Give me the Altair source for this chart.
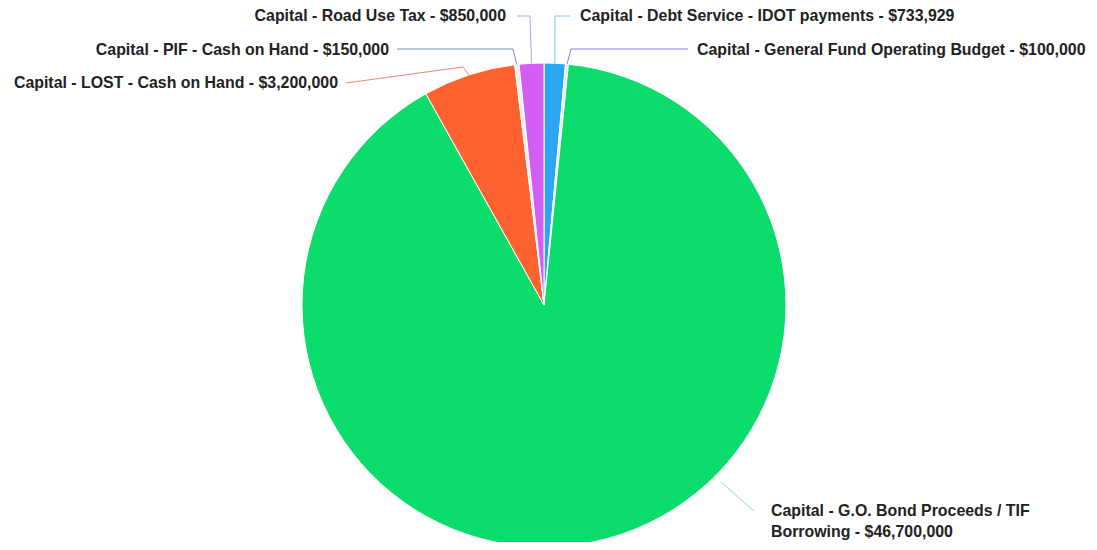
import math
import altair as alt
import pandas as pd

# ---------------- data ----------------
categories = [
    "Capital - Debt Service - IDOT payments",
    "Capital - General Fund Operating Budget",
    "Capital - G.O. Bond Proceeds / TIF Borrowing",
    "Capital - LOST - Cash on Hand",
    "Capital - PIF - Cash on Hand",
    "Capital - Road Use Tax",
]
values = [733929, 100000, 46700000, 3200000, 150000, 850000]
value_text = ["$733,929", "$100,000", "$46,700,000", "$3,200,000", "$150,000", "$850,000"]

# ---------------- styles ----------------
slice_colors = ["#2AA6F5", "#ECE8FB", "#0BDC6B", "#FF6231", "#ECF0F5", "#D35EF6"]
line_colors = ["#7DC6F2", "#8C7CF2", "#9FD8BD", "#E98B76", "#7890AB", "#C39BDF"]

# ---------------- layout (page pixel coordinates) ----------------
W, H = 1081, 534
OX, OY = 8, 8
CX, CY, R = 544, 305, 242
FONT_SIZE = 15.9
label_anchor = [(580, 16), (697, 50), (771, 510.5), (338, 83), (389, 50), (506, 16)]
label_align = ["left", "left", "left", "right", "right", "right"]
leader_override = [None, None, (135, 250), None, None, None]  # (angle deg, radius)
leader_rest = [
    [(555, 16), (570, 16)],
    [(571, 49), (688, 49)],
    [(754, 511)],
    [(463, 67), (346, 83)],
    [(513, 49), (397, 49)],
    [(530, 16), (517, 16)],
]
wrap_after = {2: "TIF"}

# ---------------- build tables ----------------
total = float(sum(values))
pie_df = pd.DataFrame({
    "cat": categories,
    "value": values,
    "ord": list(range(len(values))),
    "fill": slice_colors,
})

line_rows = []
text_rows = []
cum = 0.0
for i, (cat, v) in enumerate(zip(categories, values)):
    a0 = cum / total * 360
    cum += v
    a1 = cum / total * 360
    if leader_override[i] is None:
        ang, rad = (a0 + a1) / 2, R
    else:
        ang, rad = leader_override[i]
    sx = CX + rad * math.sin(math.radians(ang))
    sy = CY - rad * math.cos(math.radians(ang))
    pts = [(sx, sy)] + leader_rest[i]
    for j, (px, py) in enumerate(pts):
        line_rows.append({"cat": cat, "i": j, "x": px, "y": py, "col": line_colors[i]})
    txt = f"{cat} - {value_text[i]}"
    if i in wrap_after:
        w = wrap_after[i]
        txt = txt.replace(w + " ", w + "\n", 1)
    text_rows.append({"cat": cat, "x": label_anchor[i][0], "y": label_anchor[i][1],
                      "txt": txt, "align": label_align[i]})

line_df = pd.DataFrame(line_rows)
text_df = pd.DataFrame(text_rows)

xs = alt.Scale(domain=[OX, OX + W], nice=False, zero=False)
ys = alt.Scale(domain=[OY, OY + H], nice=False, zero=False, reverse=True)

arc = alt.Chart(pie_df).mark_arc(outerRadius=R, stroke="white", strokeWidth=1).encode(
    theta=alt.Theta("value:Q", stack=True),
    order=alt.Order("ord:Q"),
    fill=alt.Fill("fill:N", scale=None),
    x=alt.value(CX - OX),
    y=alt.value(CY - OY),
)

lines = alt.Chart(line_df).mark_line(strokeWidth=1).encode(
    x=alt.X("x:Q", scale=xs, axis=None),
    y=alt.Y("y:Q", scale=ys, axis=None),
    detail="cat:N",
    order="i:Q",
    stroke=alt.Stroke("col:N", scale=None),
)

text_common = dict(baseline="middle", font="Liberation Sans", fontSize=FONT_SIZE,
                   fontWeight="bold", color="#222222", lineBreak="\n", lineHeight=21)

text_l = alt.Chart(text_df[text_df["align"] == "left"]).mark_text(align="left", **text_common).encode(
    x=alt.X("x:Q", scale=xs, axis=None),
    y=alt.Y("y:Q", scale=ys, axis=None),
    text="txt:N",
)
text_r = alt.Chart(text_df[text_df["align"] == "right"]).mark_text(align="right", **text_common).encode(
    x=alt.X("x:Q", scale=xs, axis=None),
    y=alt.Y("y:Q", scale=ys, axis=None),
    text="txt:N",
)

chart = alt.layer(arc, lines, text_l, text_r).properties(
    width=W, height=H, padding=0, autosize=alt.AutoSizeParams(type="none"), background="white"
).configure_view(stroke=None)

chart.save("out.html", embed_options={"renderer": "svg", "actions": False})
